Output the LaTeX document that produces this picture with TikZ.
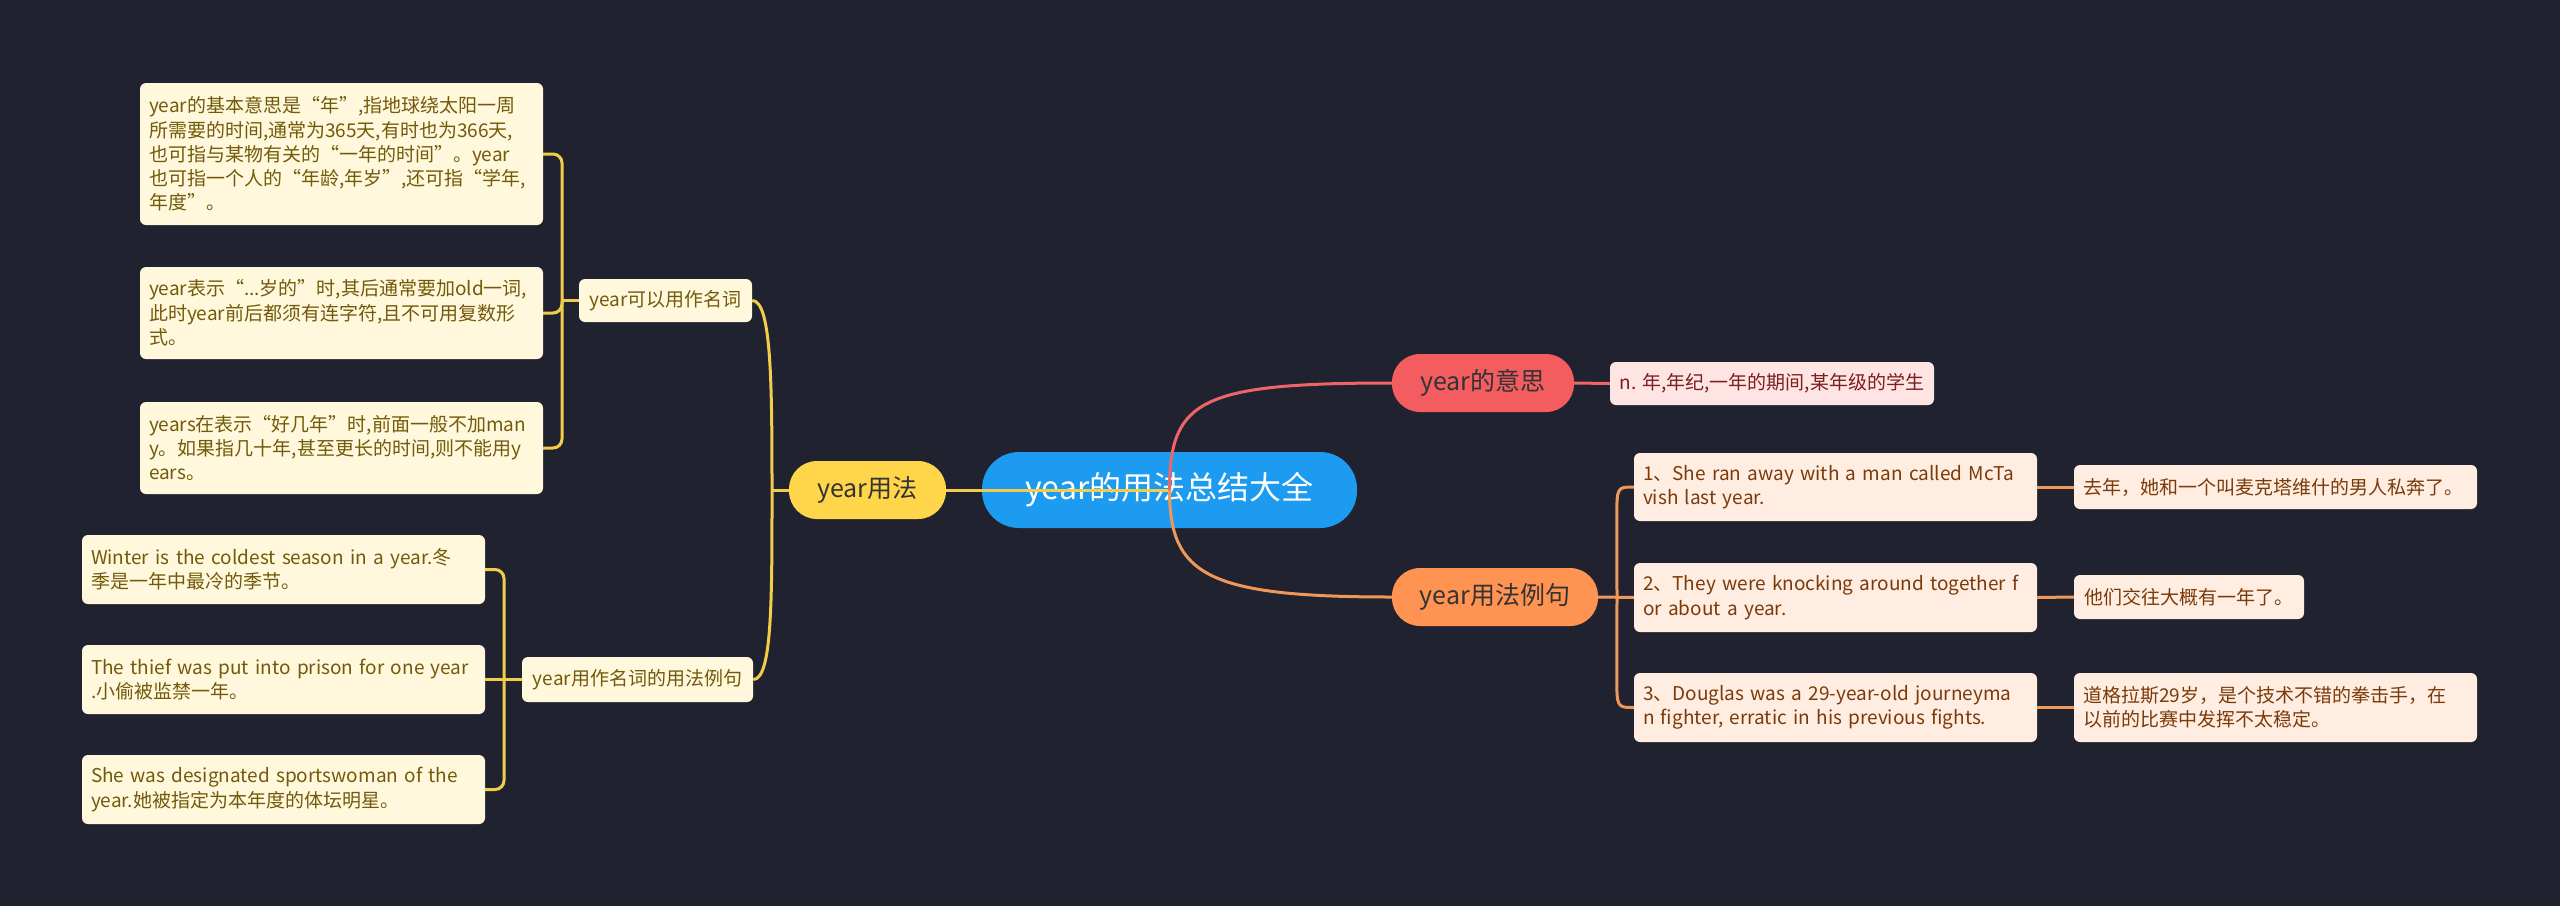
\documentclass[tikz,border=0pt]{standalone}
\usepackage{fontspec}
\setmainfont{Noto Sans CJK SC}
\usetikzlibrary{calc}
\definecolor{bg}{HTML}{20232F}
\definecolor{rootfill}{HTML}{1C9BF0}
\definecolor{yfill}{HTML}{FFD54A}
\definecolor{rfill}{HTML}{F35D5F}
\definecolor{ofill}{HTML}{FF9452}
\definecolor{lyfill}{HTML}{FFF8DC}
\definecolor{lytext}{HTML}{735A0A}
\definecolor{lrfill}{HTML}{FFE4E4}
\definecolor{lrtext}{HTML}{7A1E1E}
\definecolor{lofill}{HTML}{FFEDE1}
\definecolor{lotext}{HTML}{7A3A0A}
\definecolor{yline}{HTML}{F2CD4A}
\definecolor{rline}{HTML}{EE6468}
\definecolor{oline}{HTML}{F0975A}
\newcommand{\myl}[1]{\mbox{#1}}
\begin{document}
\begin{tikzpicture}[x=1pt,y=-1pt,
  box/.style={rounded corners=6pt, inner xsep=9pt, inner ysep=0pt, align=left,
    font=\fontsize{19pt}{24.3pt}\selectfont},
  leafY/.style={box, fill=lyfill, text=lytext},
  leafR/.style={box, fill=lrfill, text=lrtext},
  leafO/.style={box, fill=lofill, text=lotext},
  branch/.style={rounded corners=28pt, inner sep=0pt, minimum height=58pt,
    font=\fontsize{25pt}{30pt}\selectfont},
  yl/.style={draw=yline, line width=3pt},
  rl/.style={draw=rline, line width=3pt},
  ol/.style={draw=oline, line width=3pt}]
\useasboundingbox[fill=bg] (0,0) rectangle (2560,906);

% root and branches
\node[fill=rootfill, text=white, rounded corners=37pt, inner sep=0pt,
  minimum width=375pt, minimum height=76pt,
  font=\fontsize{32pt}{38pt}\selectfont] (root) at (1169.5,490) {year的用法总结大全};
\node[branch, fill=yfill, text=black!80, minimum width=157pt] (Y1) at (867.5,490) {year用法};
\node[branch, fill=rfill, text=black!80, minimum width=182pt] (R1) at (1483,383) {year的意思};
\node[branch, fill=ofill, text=black!80, minimum width=206pt] (O1) at (1495,597) {year用法例句};

% yellow branch
\node[leafY, minimum width=173pt, minimum height=43pt] (N1) at (665.5,300.5) {year可以用作名词};
\node[leafY, minimum width=231pt, minimum height=45pt] (N2) at (637.5,679.5) {year用作名词的用法例句};

\node[leafY, text width=385pt, minimum height=142pt] (A1) at (341.5,154)
 {\myl{year的基本意思是“年”,指地球绕太阳一周}\\\myl{所需要的时间,通常为365天,有时也为366天,}\\\myl{也可指与某物有关的“一年的时间”。year}\\\myl{也可指一个人的“年龄,年岁”,还可指“学年,}\\\myl{年度”。}};
\node[leafY, text width=385pt, minimum height=92pt] (A2) at (341.5,313)
 {\myl{year表示“...岁的”时,其后通常要加old一词,}\\\myl{此时year前后都须有连字符,且不可用复数形}\\\myl{式。}};
\node[leafY, text width=385pt, minimum height=92pt] (A3) at (341.5,448)
 {\myl{years在表示“好几年”时,前面一般不加man}\\\myl{y。如果指几十年,甚至更长的时间,则不能用y}\\\myl{ears。}};

\node[leafY, text width=385pt, minimum height=69pt] (B1) at (283.5,569.5)
 {\myl{Winter is the coldest season in a year.冬}\\\myl{季是一年中最冷的季节。}};
\node[leafY, text width=385pt, minimum height=69pt] (B2) at (283.5,679.5)
 {\myl{The thief was put into prison for one year}\\\myl{.小偷被监禁一年。}};
\node[leafY, text width=385pt, minimum height=69pt] (B3) at (283.5,789.5)
 {\myl{She was designated sportswoman of the}\\\myl{year.她被指定为本年度的体坛明星。}};

% red branch
\node[leafR, minimum width=324pt, minimum height=43pt] (RN) at (1772,383.5) {n. 年,年纪,一年的期间,某年级的学生};

% orange branch
\node[leafO, text width=385pt, minimum height=68pt] (C1) at (1835.5,487)
 {\myl{1、She ran away with a man called McTa}\\\myl{vish last year.}};
\node[leafO, text width=385pt, minimum height=69pt] (C2) at (1835.5,597.5)
 {\myl{2、They were knocking around together f}\\\myl{or about a year.}};
\node[leafO, text width=385pt, minimum height=69pt] (C3) at (1835.5,707.5)
 {\myl{3、Douglas was a 29-year-old journeyma}\\\myl{n fighter, erratic in his previous fights.}};
\node[leafO, text width=385pt, minimum height=44pt] (D1) at (2275.5,487)
 {\myl{去年，她和一个叫麦克塔维什的男人私奔了。}};
\node[leafO, minimum width=230pt, minimum height=44pt] (D2) at (2189,597) {他们交往大概有一年了。};
\node[leafO, text width=385pt, minimum height=69pt] (D3) at (2275.5,707.5)
 {\myl{道格拉斯29岁，是个技术不错的拳击手，在}\\\myl{以前的比赛中发挥不太稳定。}};

% connectors from root
\draw[yl] (root.center) -- (Y1.east);
\draw[rl] (root.center) .. controls +(0,-90) and +(-192,0) .. (R1.west);
\draw[ol] (root.center) .. controls +(0,85) and +(-185,0) .. (O1.west);

% yellow connectors
\coordinate (yb) at (772,490);
\draw[yl] (Y1.west) -- (yb);
\draw[yl] (yb) .. controls +(0,-110) and +(19,0) .. (N1.east);
\draw[yl] (yb) .. controls +(0,110) and +(19,0) .. (N2.east);

\coordinate (ab) at (562,300.5);
\draw[yl] (N1.west) -- (ab);
\draw[yl, rounded corners=9pt] (ab) |- (A1.east);
\draw[yl, rounded corners=9pt] (ab) |- (A2.east);
\draw[yl, rounded corners=9pt] (ab) |- (A3.east);

\coordinate (bb) at (504,679.5);
\draw[yl] (N2.west) -- (B2.east);
\draw[yl, rounded corners=9pt] (bb) |- (B1.east);
\draw[yl, rounded corners=9pt] (bb) |- (B3.east);

% red connector
\draw[rl] (R1.east) -- (RN.west);

% orange connectors
\coordinate (cb) at (1617,597);
\draw[ol] (O1.east) -- (C2.west);
\draw[ol] (cb) -- ($(C1.west)+(-17,32)$) .. controls ($(C1.west)+(-17,0)$) .. (C1.west);
\draw[ol] (cb) -- ($(C3.west)+(-17,-32)$) .. controls ($(C3.west)+(-17,0)$) .. (C3.west);
\draw[ol] (C1.east) -- (D1.west);
\draw[ol] (C2.east) -- (D2.west);
\draw[ol] (C3.east) -- (D3.west);
\end{tikzpicture}
\end{document}
